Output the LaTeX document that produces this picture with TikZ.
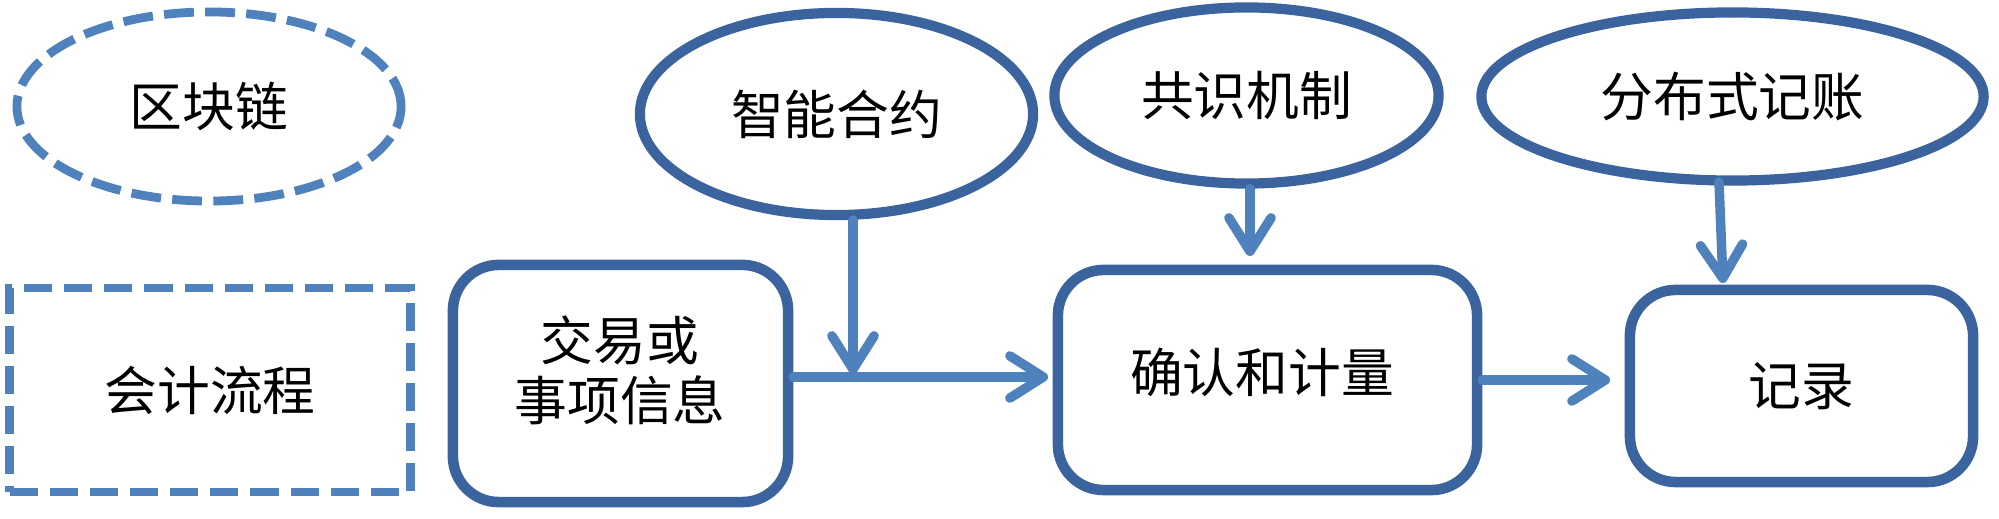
\documentclass[tikz,border=0pt]{standalone}
\usepackage{fontspec}
\newfontfamily\cjk{Noto Sans CJK SC}
\usetikzlibrary{shapes.geometric,arrows.meta}
\definecolor{dk}{HTML}{3B649E}
\definecolor{lt}{HTML}{4F81BD}
\begin{document}
\begin{tikzpicture}[x=0.01cm,y=-0.01cm,
  txt/.style={font=\cjk\fontsize{15}{17}\selectfont, align=center, text=black},
  dkell/.style={ellipse, draw=dk, line width=2.9pt, inner sep=0pt, txt},
  dsell/.style={ellipse, draw=lt, line width=2.5pt, dash pattern=on 8.5pt off 3.2pt, inner sep=0pt, txt},
  dsbox/.style={rectangle, draw=lt, line width=2.5pt, dash pattern=on 8pt off 3.4pt, inner sep=0pt, txt},
  rbox/.style={rectangle, rounded corners=13pt, draw=dk, line width=3pt, inner sep=0pt, txt},
  arr/.style={draw=lt, line width=2.7pt, line cap=round,
    -{Straight Barb[length=9.5pt,width=12pt,line cap=round,line join=round]}}]
\useasboundingbox (0,0) rectangle (1999,519);
% legend
\node[dsell, minimum width=3.84cm, minimum height=1.89cm] (bc) at (209,106.5) {区块链};
\node[dsbox, minimum width=4.00cm, minimum height=2.04cm] (kj) at (210,390) {会计流程};
% top ellipses
\node[dkell, minimum width=3.93cm, minimum height=2.02cm] (sc) at (836.5,114) {智能合约};
\node[dkell, minimum width=3.84cm, minimum height=1.76cm] (gs) at (1246.5,95.5) {共识机制};
\node[dkell, minimum width=5.02cm, minimum height=1.68cm] (fb) at (1732.5,96.5) {分布式记账};
% boxes
\node[rbox, minimum width=3.35cm, minimum height=2.37cm] (jy) at (620.5,383.5) {};
\node[txt] (jyt) at (620,370) {交易或\\事项信息};
\node[rbox, minimum width=4.19cm, minimum height=2.20cm] (qr) at (1267.5,380) {};
\node[txt] (qrt) at (1262,372) {确认和计量};
\node[rbox, minimum width=3.43cm, minimum height=1.92cm] (jl) at (1801.5,386) {记录};
% connector points
\coordinate (j1) at (853,374);
\coordinate (h1) at (1048,377);
\coordinate (g1) at (1250,256);
\coordinate (h2) at (1610,380);
\coordinate (f1) at (1719,182);
\coordinate (f2) at (1723,283);
% connectors
\draw[arr] (j1 |- sc.south) -- (j1);
\draw[arr] (jy.east |- h1) -- (h1);
\draw[arr] (g1 |- gs.south) -- (g1);
\draw[arr] (qr.east) -- (qr.east -| h2);
\draw[arr] (f1) -- (f2);
\end{tikzpicture}
\end{document}
